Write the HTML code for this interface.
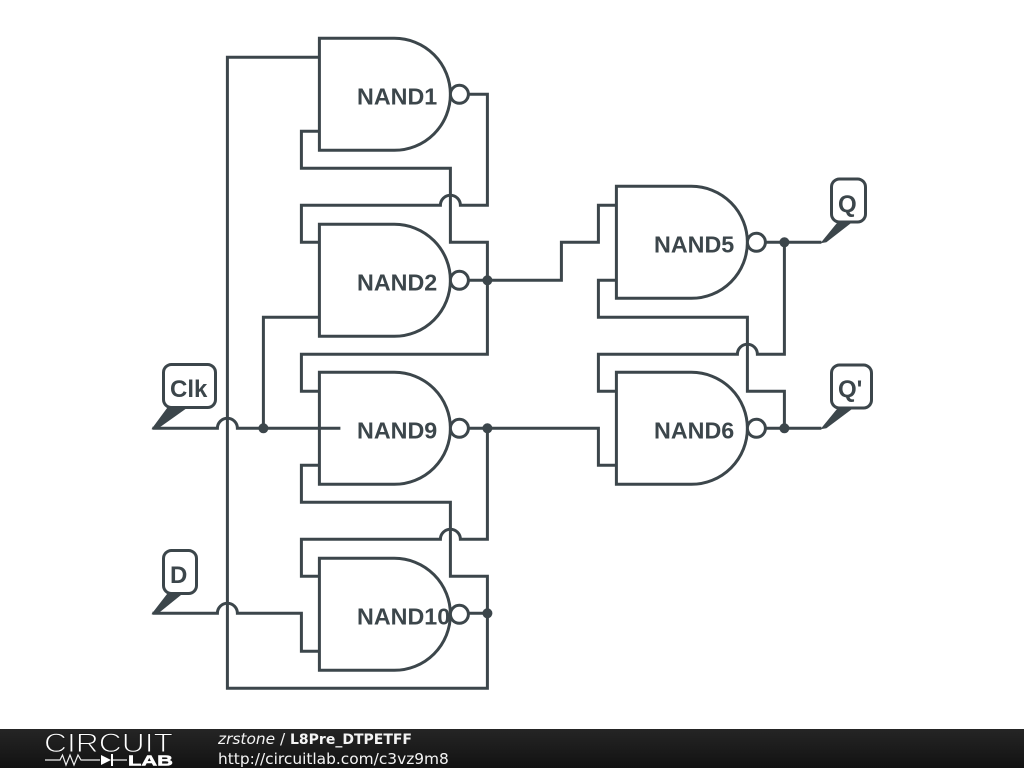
<!DOCTYPE html>
<html>
<head>
<meta charset="utf-8">
<style>
html,body{margin:0;padding:0;background:#fff;width:1024px;height:768px;overflow:hidden}
svg{display:block}
.w{fill:none;stroke:#3c464b;stroke-width:3;stroke-linejoin:miter}
.g{fill:#fff;stroke:#3c464b;stroke-width:3}
.t{font-family:"Liberation Sans",sans-serif;font-weight:bold;font-size:23.3px;fill:#3c464b}
.l{font-size:24px}
.f{font-family:"DejaVu Sans",sans-serif;font-size:15.4px;fill:#f4f4f4}
</style>
</head>
<body>
<svg width="1024" height="768" viewBox="0 0 1024 768" xmlns="http://www.w3.org/2000/svg">
<defs>
<linearGradient id="bar" x1="0" y1="0" x2="0" y2="1"><stop offset="0" stop-color="#252525"/><stop offset="1" stop-color="#121212"/></linearGradient>
</defs>
<rect width="1024" height="768" fill="#fff"/>

<g transform="translate(0.4 0.3)">
<!-- wires -->
<g class="w">
<path d="M319 57H227V688H487V613"/>
<path d="M468 94H487V205H460A10 10 0 0 0 440 205H301V242H319"/>
<path d="M319 131H301V168H450V242H487V354H301V391H319"/>
<path d="M319 317H263V428"/>
<path d="M152 428H217A10 10 0 0 1 237 428H340"/>
<path d="M468 280H561V242H598V205H616"/>
<path d="M319 465H301V502H450V576H487V613"/>
<path d="M487 428V539H460A10 10 0 0 0 440 539H301V576H319"/>
<path d="M152 613H217A10 10 0 0 1 237 613H301V651H319"/>
<path d="M468 613H487"/>
<path d="M468 428H598V465H616"/>
<path d="M616 280H598V317H747V391H784V428"/>
<path d="M765 242H821"/>
<path d="M784 242V354H757A10 10 0 0 0 737 354H598V391H616"/>
<path d="M765 428H821"/>
</g>

<!-- gates -->
<g class="w">
<path d="M319 38H394A56 56 0 0 1 394 150H319Z"/>
<path d="M319 224H394A56 56 0 0 1 394 336H319Z"/>
<path d="M319 372H394A56 56 0 0 1 394 484H319Z"/>
<path d="M319 558H394A56 56 0 0 1 394 670H319Z"/>
<path d="M616 186H691A56 56 0 0 1 691 298H616Z"/>
<path d="M616 372H691A56 56 0 0 1 691 484H616Z"/>
</g>
<g class="g">
<circle cx="459" cy="94" r="9"/>
<circle cx="459" cy="280" r="9"/>
<circle cx="459" cy="428" r="9"/>
<circle cx="459" cy="614" r="9"/>
<circle cx="756" cy="242" r="9"/>
<circle cx="756" cy="428" r="9"/>
</g>

<!-- junctions -->
<g fill="#3c464b">
<circle cx="487" cy="280" r="5"/>
<circle cx="487" cy="428" r="5"/>
<circle cx="487" cy="613" r="5"/>
<circle cx="263" cy="428" r="5"/>
<circle cx="784" cy="242" r="5"/>
<circle cx="784" cy="428" r="5"/>
<!-- flag tails -->
<path d="M151 429L168 406H189L158 428Z"/>
<path d="M151 614L168 592H184L158 613Z"/>
<path d="M820 243L838 221H853L826 242Z"/>
<path d="M820 429L838 407H854L826 428Z"/>
</g>
</g>

<!-- flags -->
<g class="g">
<rect x="163.500" y="364.500" width="52" height="43" rx="8"/>
<rect x="163.500" y="550.500" width="33" height="43" rx="8"/>
<rect x="831.500" y="179" width="34" height="43" rx="8"/>
<rect x="831.500" y="365" width="40" height="43" rx="8"/>
</g>

<!-- labels -->
<g class="t">
<text x="357" y="104.500">NAND1</text>
<text x="357" y="290.500">NAND2</text>
<text x="357" y="438.500">NAND9</text>
<text x="357" y="624.500">NAND10</text>
<text x="654" y="252.500">NAND5</text>
<text x="654" y="438.500">NAND6</text>
<text class="l" x="170" y="397">Clk</text>
<text class="l" x="170" y="583">D</text>
<text class="l" x="838" y="212">Q</text>
<text class="l" x="838" y="397">Q'</text>
</g>

<!-- footer -->
<rect x="0" y="729" width="1024" height="39" fill="url(#bar)"/>
<text x="44" y="752" font-family="Liberation Sans, sans-serif" font-size="26.500" textLength="129" lengthAdjust="spacingAndGlyphs" fill="#fff" stroke="#1d1d1d" stroke-width="1">CIRCUIT</text>
<path d="M45 760H60L62.500 755L66 765L70 755L74 765L78 755L81 760H100M113 760H127" fill="none" stroke="#eee" stroke-width="1.200"/>
<path d="M101 755L111 760L101 765Z" fill="#fff"/>
<rect x="111" y="754" width="2" height="12" fill="#fff"/>
<text x="128" y="765.500" font-family="Liberation Sans, sans-serif" font-weight="bold" font-size="14.500" textLength="45" lengthAdjust="spacingAndGlyphs" fill="#fff" stroke="#fff" stroke-width="0.500">LAB</text>
<text x="218" y="744" class="f"><tspan font-style="italic">zrstone</tspan> /</text>
<text x="290" y="744" class="f" font-weight="bold" style="font-size:14px">L8Pre_DTPETFF</text>
<text x="218" y="764" class="f">http://circuitlab.com/c3vz9m8</text>
</svg>
</body>
</html>
